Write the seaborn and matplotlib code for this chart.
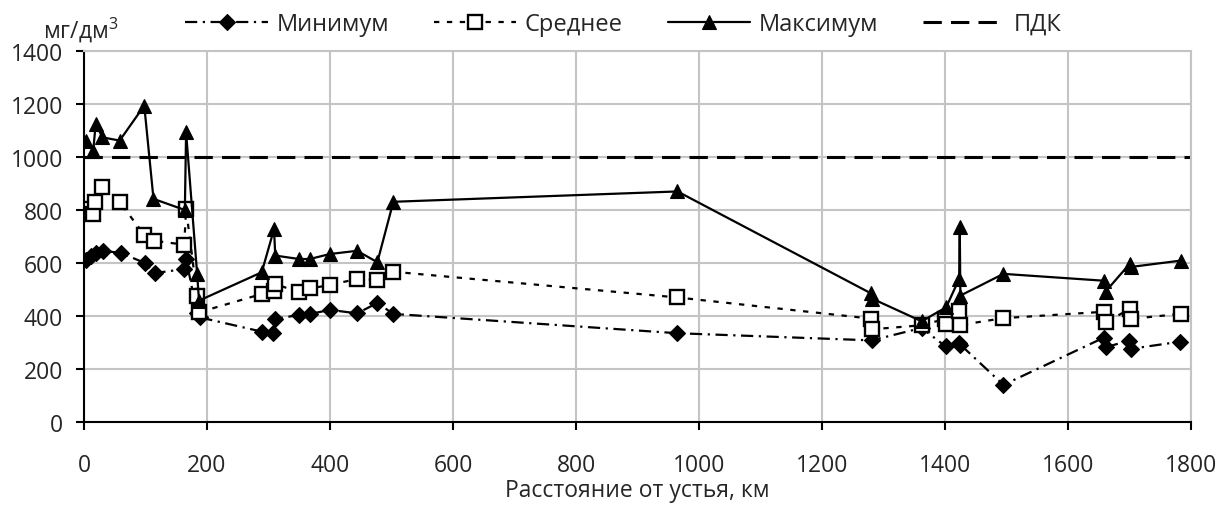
import matplotlib
matplotlib.use("Agg")
import matplotlib.pyplot as plt
import seaborn as sns

# ---- data ----
min_x = [3, 12, 20, 31, 60, 99, 115, 163, 166, 184, 188, 289, 308, 311, 350, 368, 400, 444, 477, 503,
         965, 1281, 1362, 1401, 1422, 1425, 1495, 1658, 1661, 1699, 1702, 1782]
min_y = [610, 628, 638, 646, 638, 600, 562, 577, 615, 410, 395, 341, 336, 389, 404, 408, 423, 410, 449, 408,
         335, 308, 355, 285, 300, 292, 140, 318, 282, 307, 276, 303]

mean_x = [4, 15, 18, 30, 58, 98, 114, 163, 166, 184, 187, 289, 309, 311, 350, 368, 400, 444, 477, 503,
          965, 1280, 1282, 1362, 1400, 1402, 1423, 1425, 1495, 1659, 1661, 1700, 1702, 1783]
mean_y = [804, 785, 829, 886, 829, 707, 684, 669, 804, 474, 414, 483, 496, 521, 489, 504, 517, 540, 536, 567,
          470, 390, 350, 365, 389, 370, 420, 366, 392, 416, 376, 426, 389, 408]

max_x = [3, 15, 19, 30, 58, 98, 113, 164, 166, 184, 187, 289, 309, 311, 350, 367, 400, 444, 477, 503,
         965, 1280, 1282, 1362, 1402, 1423, 1424, 1425, 1495, 1659, 1661, 1700, 1702, 1783]
max_y = [1062, 1024, 1125, 1074, 1062, 1194, 842, 800, 1093, 558, 458, 565, 728, 628, 615, 615, 634, 646, 603, 831,
         870, 485, 465, 380, 433, 540, 735, 477, 559, 533, 492, 596, 585, 609]

pdk_x = [0, 1800]
pdk_y = [1000, 1000]

labels = ["Минимум", "Среднее", "Максимум", "ПДК"]
x_ticks = [0, 200, 400, 600, 800, 1000, 1200, 1400, 1600, 1800]
y_ticks = [0, 200, 400, 600, 800, 1000, 1200, 1400]
x_label = "Расстояние от устья, км"
y_unit = "мг/дм$^\\mathregular{3}$"

# ---- style ----
sns.set_style("white")
plt.rcParams["font.family"] = ["Open Sans", "DejaVu Sans"]
plt.rcParams["font.size"] = 16

W, H = 1220, 506
fig = plt.figure(figsize=(W / 100, H / 100), dpi=100)
fig.subplots_adjust(left=84 / W, right=1191 / W, bottom=1 - 423 / H, top=1 - 52 / H)
ax = fig.add_subplot(111)

common = dict(sort=False, estimator=None, color="black", ax=ax)

sns.lineplot(x=min_x, y=min_y, marker="D", markersize=8, markerfacecolor="black",
             markeredgecolor="black", markeredgewidth=0.8, lw=1.6,
             linestyle=(0, (5.5, 2.5, 1, 2.5)), label=labels[0], **common)
sns.lineplot(x=mean_x, y=mean_y, marker="s", markersize=10, markerfacecolor="white",
             markeredgecolor="black", markeredgewidth=1.7, lw=1.6,
             linestyle=(0, (2.4, 3.4)), label=labels[1], **common)
sns.lineplot(x=max_x, y=max_y, marker="^", markersize=9.5, markerfacecolor="black",
             markeredgecolor="black", markeredgewidth=0.8, lw=1.6,
             linestyle="-", label=labels[2], **common)
sns.lineplot(x=pdk_x, y=pdk_y, lw=2.2, linestyle=(0, (6, 3)), label=labels[3], **common)

ax.set_xlim(0, 1800)
ax.set_ylim(0, 1400)
ax.set_xticks(x_ticks)
ax.set_yticks(y_ticks)
ax.set_axisbelow(True)
ax.grid(True, color="#c4c4c4", lw=1.5)

for s in ("left", "bottom"):
    ax.spines[s].set_color("black")
    ax.spines[s].set_linewidth(1.5)
for s in ("top", "right"):
    ax.spines[s].set_color("#c4c4c4")
    ax.spines[s].set_linewidth(1.5)

ax.tick_params(axis="x", direction="out", length=6, width=1.5, color="black",
               pad=16, labelsize=16.5, bottom=True)
ax.tick_params(axis="y", direction="out", length=6, width=1.5, color="black",
               pad=9, labelsize=16.5, left=True)

ax.set_xlabel(x_label, fontsize=16.5, labelpad=1)
ax.set_ylabel("")

fig.text(43 / W, 1 - 38 / H, y_unit, fontsize=16.5, ha="left", va="baseline")

handles, labs = ax.get_legend_handles_labels()
ax.legend(handles, labs, ncol=4, frameon=False, loc="center",
          bbox_to_anchor=(0.511, 1 - 25 / H), bbox_transform=fig.transFigure,
          handlelength=3.5, handletextpad=0.35, columnspacing=1.9, fontsize=17,
          borderpad=0, borderaxespad=0)

fig.savefig("out.png", dpi=100)
